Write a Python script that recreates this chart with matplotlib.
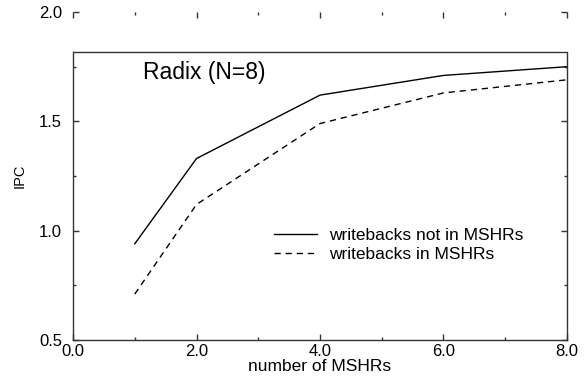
"""IPC vs number of MSHRs for Radix (N=8)."""

import matplotlib
matplotlib.use("Agg")
import matplotlib.pyplot as plt
from matplotlib.ticker import MultipleLocator

plt.rcParams["font.family"] = ["Liberation Sans", "DejaVu Sans"]

# ---------------------------------------------------------------------------
# Data
# ---------------------------------------------------------------------------
mshrs = [1, 2, 4, 6, 8]
ipc_wb_not_in_mshrs = [0.94, 1.33, 1.62, 1.71, 1.75]
ipc_wb_in_mshrs = [0.71, 1.12, 1.49, 1.63, 1.69]

x_ticks = [0, 2, 4, 6, 8]
x_tick_labels = ["0.0", "2.0", "4.0", "6.0", "8.0"]
y_ticks = [0.5, 1.0, 1.5, 2.0]
y_tick_labels = ["0.5", "1.0", "1.5", "2.0"]

FRAME = "#333333"
BOX_TOP = 1.815  # the drawn frame stops short of the axis top

fig = plt.figure(figsize=(5.85, 3.78), dpi=100)
ax = fig.add_axes([0.1248, 0.1005, 0.8444, 0.8677])

ax.plot(mshrs, ipc_wb_not_in_mshrs, color="black", lw=1.0,
        label="writebacks not in MSHRs")
ax.plot(mshrs, ipc_wb_in_mshrs, color="black", lw=1.0, dashes=(4.5, 3.5),
        label="writebacks in MSHRs")

ax.set_xlim(0, 8)
ax.set_ylim(0.5, 2.0)

ax.set_xticks(x_ticks, x_tick_labels)
ax.set_yticks(y_ticks, y_tick_labels)
ax.xaxis.set_minor_locator(MultipleLocator(1))
ax.yaxis.set_minor_locator(MultipleLocator(0.25))

ax.tick_params(which="both", direction="in", top=True, right=True,
               color=FRAME, width=1.0)
ax.tick_params(which="major", length=4.5)
ax.tick_params(which="minor", length=2.5)
ax.tick_params(axis="x", labelsize=12, pad=3)
ax.tick_params(axis="y", labelsize=12, pad=8)

# Frame: open at the top, closed by a line below the 2.0 tick row.
ax.spines["top"].set_visible(False)
for side in ("left", "right"):
    ax.spines[side].set_bounds(0.5, BOX_TOP)
for side in ("left", "right", "bottom"):
    ax.spines[side].set_color(FRAME)
    ax.spines[side].set_linewidth(1.0)
ax.axhline(BOX_TOP, color=FRAME, lw=1.0)

ax.set_xlabel("number of MSHRs", fontsize=12.5, labelpad=0)
ax.set_ylabel("IPC", fontsize=10.5, labelpad=9)

ax.text(0.265, 0.815, "Radix (N=8)", transform=ax.transAxes,
        ha="center", va="center", fontsize=16.5)

ax.legend(loc="center left", bbox_to_anchor=(0.407, 0.29), frameon=False,
          fontsize=12.5, handlelength=2.5, handletextpad=0.65,
          labelspacing=0.2, borderaxespad=0, borderpad=0)

fig.savefig("out.png", dpi=100)
